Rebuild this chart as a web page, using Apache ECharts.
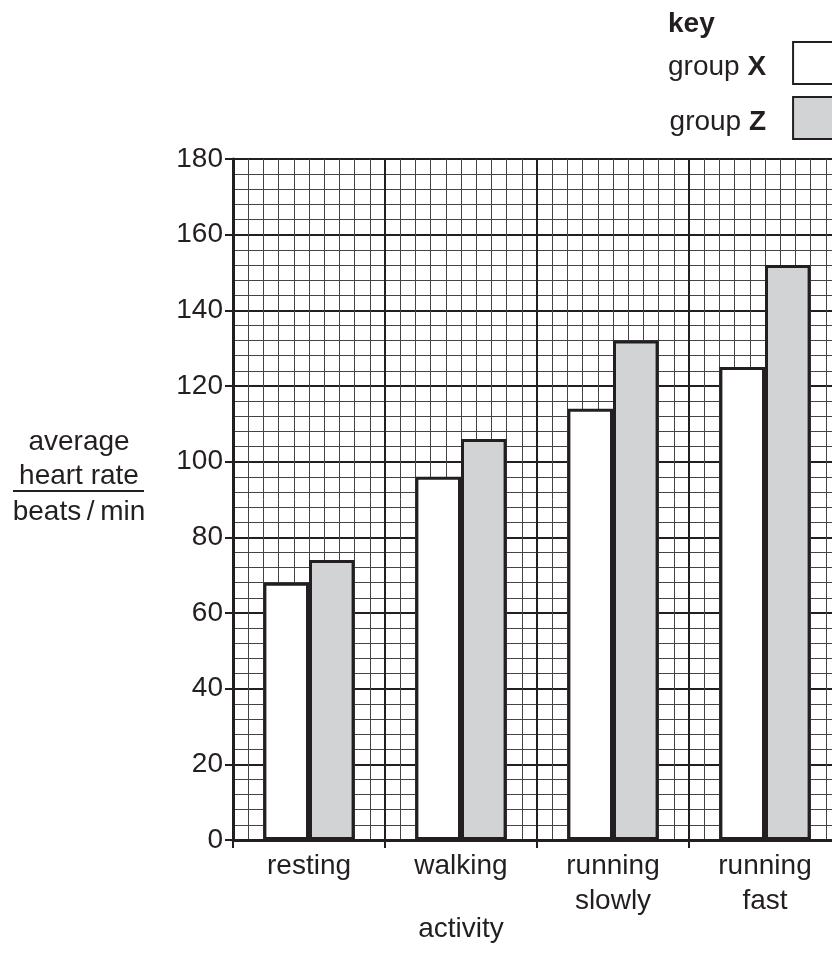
<!DOCTYPE html>
<html>
<head>
<meta charset="utf-8">
<script src="https://cdn.jsdelivr.net/npm/echarts@6/dist/echarts.min.js"></script>
<style>
html,body{margin:0;padding:0;background:#fff;}
#c{width:832px;height:953px;}
</style>
</head>
<body>
<div id="c"></div>
<script>
var categories = ['resting', 'walking', 'running\nslowly', 'running\nfast'];
var groupX = [68, 96, 114, 125];
var groupZ = [74, 106, 132, 152];
var yTicks = [0, 20, 40, 60, 80, 100, 120, 140, 160, 180];

var ink = '#231f20';
var FONT = 'Liberation Sans, Arial, sans-serif';
var chart = echarts.init(document.getElementById('c'), null, {renderer: 'canvas'});
chart.setOption({
  animation: false,
  backgroundColor: '#fff',
  textStyle: {fontFamily: FONT, color: ink},
  grid: {left: 233, top: 159, bottom: 113, width: 608, containLabel: false, outerBoundsMode: 'none'},
  legend: {
    orient: 'vertical', left: 668, top: 41, align: 'right', padding: 0,
    itemWidth: 48, itemHeight: 42, itemGap: 11, selectedMode: false,
    icon: 'rect',
    formatter: function (name) { return '{n|group }{b|' + name.split(' ')[1] + '}'; },
    textStyle: {
      padding: [8, 22, 0, 0],
      rich: {
        n: {fontSize: 28, fontFamily: FONT, color: ink, lineHeight: 30},
        b: {fontSize: 28, fontFamily: FONT, color: ink, fontWeight: 'bold', lineHeight: 30}
      }
    }
  },
  xAxis: [{
    type: 'category', data: categories, boundaryGap: true,
    axisLine: {show: true, lineStyle: {color: ink, width: 3}},
    axisTick: {show: true, length: 8, lineStyle: {color: ink, width: 2}},
    axisLabel: {fontSize: 28, color: ink, fontFamily: FONT, margin: 9, lineHeight: 35, interval: 0},
    splitLine: {show: true, lineStyle: {color: ink, width: 2}}
  }, {
    type: 'value', min: 0, max: 40, interval: 10, position: 'top', show: true,
    axisLine: {show: false}, axisTick: {show: false}, axisLabel: {show: false},
    splitLine: {show: false},
    minorTick: {show: false, splitNumber: 10},
    minorSplitLine: {show: true, lineStyle: {color: '#444', width: 1}}
  }],
  yAxis: {
    type: 'value', min: 0, max: 180, interval: 20,
    axisLine: {show: true, lineStyle: {color: ink, width: 3}},
    axisTick: {show: true, length: 8, lineStyle: {color: ink, width: 2}},
    axisLabel: {fontSize: 28, color: ink, fontFamily: FONT, margin: 10,
      formatter: function (v) { return yTicks.indexOf(v) >= 0 ? String(v) : ''; }},
    splitLine: {show: true, lineStyle: {color: ink, width: 2}},
    minorTick: {show: false, splitNumber: 5},
    minorSplitLine: {show: true, lineStyle: {color: '#444', width: 1}}
  },
  series: [{
    name: 'group X', type: 'bar', data: groupX, xAxisIndex: 0,
    barWidth: '30%', barGap: '0%',
    itemStyle: {color: '#ffffff', borderColor: ink, borderWidth: 3}
  }, {
    name: 'group Z', type: 'bar', data: groupZ, xAxisIndex: 0,
    barWidth: '30%', barGap: '0%',
    itemStyle: {color: '#d1d3d4', borderColor: ink, borderWidth: 3}
  }],
  graphic: [
    {type: 'text', left: 668, top: 10, style: {text: 'key', font: 'bold 28px ' + FONT, fill: ink}},
    {type: 'text', x: 79, y: 442, style: {text: 'average', font: '28px ' + FONT, fill: ink, align: 'center', verticalAlign: 'middle'}},
    {type: 'text', x: 79, y: 476, style: {text: 'heart rate', font: '28px ' + FONT, fill: ink, align: 'center', verticalAlign: 'middle'}},
    {type: 'line', shape: {x1: 13, y1: 491, x2: 144, y2: 491}, style: {stroke: ink, lineWidth: 2}},
    {type: 'text', x: 79, y: 512, style: {text: 'beats\u2009/\u2009min', font: '28px ' + FONT, fill: ink, align: 'center', verticalAlign: 'middle'}},
    {type: 'text', x: 461, y: 929, style: {text: 'activity', font: '28px ' + FONT, fill: ink, align: 'center', verticalAlign: 'middle'}}
  ]
});
</script>
</body>
</html>
